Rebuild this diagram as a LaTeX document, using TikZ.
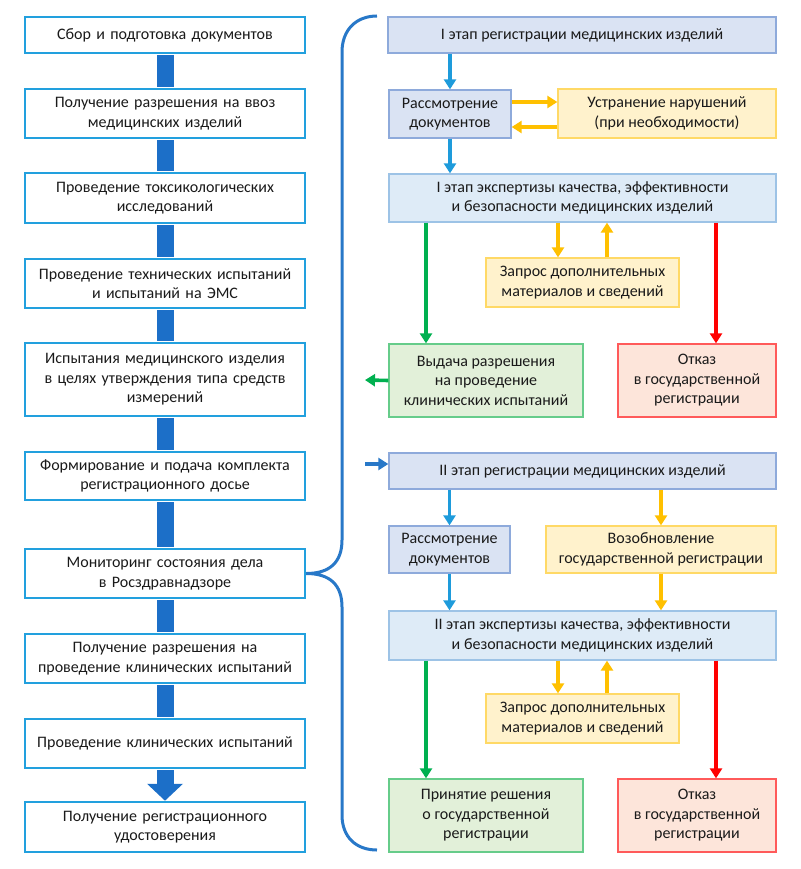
\documentclass[tikz,border=0pt]{standalone}
\usepackage{fontspec}
\setmainfont{Carlito}
\usetikzlibrary{arrows.meta, calc}

\definecolor{lborder}{HTML}{22A0DE}
\definecolor{barblue}{HTML}{1C6FC8}
\definecolor{arrblue}{HTML}{1E9BDB}
\definecolor{bracecol}{HTML}{2878C8}
\definecolor{stagefill}{HTML}{DAE3F3}
\definecolor{stageline}{HTML}{8EAADB}
\definecolor{expfill}{HTML}{DEEBF7}
\definecolor{expline}{HTML}{9DC3E6}
\definecolor{warnfill}{HTML}{FFF2CC}
\definecolor{warnline}{HTML}{FFD966}
\definecolor{okfill}{HTML}{E2F0D9}
\definecolor{okline}{HTML}{66CC8A}
\definecolor{failfill}{HTML}{FDE5DA}
\definecolor{failline}{HTML}{FF5A5A}
\definecolor{yarrow}{HTML}{FFC000}
\definecolor{garrow}{HTML}{00B050}
\definecolor{rarrow}{HTML}{FF0000}
\definecolor{txt}{HTML}{1A1A1A}

\tikzset{
  box/.style={draw, align=center, inner sep=0pt, text=txt,
    font=\fontsize{16}{19.5}\selectfont},
  lbox/.style={box, draw=lborder, line width=2.5pt, fill=white,
    minimum width=280, text width=276},
  stagebox/.style={box, draw=stageline, line width=1.3pt, fill=stagefill},
  expbox/.style={box, draw=expline, line width=1.3pt, fill=expfill},
  warnbox/.style={box, draw=warnline, line width=1.3pt, fill=warnfill},
  okbox/.style={box, draw=okline, line width=1.3pt, fill=okfill},
  failbox/.style={box, draw=failline, line width=1.3pt, fill=failfill},
  bar/.style={draw=barblue, line width=17pt},
  conn/.style={line width=3.6pt, -{Triangle[width=12pt,length=10pt]}},
  barr/.style={conn, draw=arrblue},
  yarr/.style={conn, draw=yarrow},
  garr/.style={conn, draw=garrow},
  rarr/.style={conn, draw=rarrow}
}

\begin{document}
\begin{tikzpicture}[x=1pt,y=-1pt]
  \useasboundingbox (0,0) rectangle (800,869);

  % left column
  \node[lbox, minimum height=36] (l1) at (165,35) {Сбор и подготовка документов};
  \node[lbox, minimum height=49] (l2) at (165,113.5) {Получение разрешения на ввоз\\медицинских изделий};
  \node[lbox, minimum height=50] (l3) at (165,198) {Проведение токсикологических\\исследований};
  \node[lbox, minimum height=49] (l4) at (165,283.5) {Проведение технических испытаний\\и испытаний на ЭМС};
  \node[lbox, minimum height=73] (l5) at (165,379.5) {Испытания медицинского изделия\\в целях утверждения типа средств\\измерений};
  \node[lbox, minimum height=48] (l6) at (165,476) {Формирование и подача комплекта\\регистрационного досье};
  \node[lbox, minimum height=49] (l7) at (165,573.5) {Мониторинг состояния дела\\в Росздравнадзоре};
  \node[lbox, minimum height=49] (l8) at (165,658.5) {Получение разрешения на\\проведение клинических испытаний};
  \node[lbox, minimum height=49] (l9) at (165,743.5) {Проведение клинических испытаний};
  \node[lbox, minimum height=50] (l10) at (165,827) {Получение регистрационного\\удостоверения};

  \foreach \a/\b in {l1/l2, l2/l3, l3/l4, l4/l5, l5/l6, l6/l7, l7/l8, l8/l9}
    \draw[bar, shorten <=1.2pt, shorten >=1.2pt] (\a.south) -- (\b.north);
  \draw[bar, shorten <=1.2pt, -{Triangle[width=35pt,length=17pt]}] (l9.south) -- (l10.north);

  % brace
  \draw[bracecol, line width=3pt]
    (377,16) .. controls (356,16) and (342,30) .. (342,52) -- (342,540)
    .. controls (342,562) and (330,573.5) .. (l7.east)
    .. controls (330,573.5) and (342,585) .. (342,607) -- (342,815)
    .. controls (342,837) and (356,850) .. (377,850);

  % stage I
  \node[stagebox, minimum width=388, minimum height=36] (st1) at (582,35) {I этап регистрации медицинских изделий};
  \node[stagebox, minimum width=122, minimum height=48] (rev1) at (450,114) {Рассмотрение\\документов};
  \node[warnbox, minimum width=218, minimum height=49] (fix) at (667,113.5) {Устранение нарушений\\(при необходимости)};
  \node[expbox, minimum width=387, minimum height=48] (exp1) at (582.5,198) {I этап экспертизы качества, эффективности\\и безопасности медицинских изделий};
  \node[warnbox, minimum width=193, minimum height=49] (req1) at (582.5,282.5) {Запрос дополнительных\\материалов и сведений};
  \node[okbox, minimum width=194, minimum height=73] (perm) at (486,380.5) {Выдача разрешения\\на проведение\\клинических испытаний};
  \node[failbox, minimum width=158, minimum height=73] (rej1) at (697,380.5) {Отказ\\в государственной\\регистрации};

  % stage II
  \node[stagebox, minimum width=387, minimum height=36] (st2) at (582.5,471) {II этап регистрации медицинских изделий};
  \node[stagebox, minimum width=121, minimum height=47] (rev2) at (449.5,549.5) {Рассмотрение\\документов};
  \node[warnbox, minimum width=230, minimum height=47] (resume) at (661,549.5) {Возобновление\\государственной регистрации};
  \node[expbox, minimum width=387, minimum height=49] (exp2) at (582.5,635.5) {II этап экспертизы качества, эффективности\\и безопасности медицинских изделий};
  \node[warnbox, minimum width=193, minimum height=49] (req2) at (582.5,718.5) {Запрос дополнительных\\материалов и сведений};
  \node[okbox, minimum width=194, minimum height=73] (dec) at (486,815.5) {Принятие решения\\о государственной\\регистрации};
  \node[failbox, minimum width=158, minimum height=73] (rej2) at (697,815.5) {Отказ\\в государственной\\регистрации};

  \coordinate (gx) at (426,0);
  \coordinate (rx) at (716,0);
  \coordinate (dx) at (558,0);
  \coordinate (ux) at (607,0);
  \coordinate (out) at (365,380);
  \coordinate (in) at (365,464);

  \draw[barr] (rev1.north |- st1.south) -- (rev1.north);
  \draw[yarr] ($(rev1.east)+(0,-12)$) -- ($(rev1.east -| fix.west)+(0,-12)$);
  \draw[yarr] ($(fix.west)+(0,13.5)$) -- ($(fix.west -| rev1.east)+(0,13.5)$);
  \draw[barr] (rev1.south) -- (rev1.south |- exp1.north);
  \draw[garr] (gx |- exp1.south) -- (gx |- perm.north);
  \draw[rarr] (rx |- exp1.south) -- (rx |- rej1.north);
  \draw[yarr] (dx |- exp1.south) -- (dx |- req1.north);
  \draw[yarr] (ux |- req1.north) -- (ux |- exp1.south);
  \draw[garr] (perm.west) -- (out);

  \draw[conn, draw=bracecol] (in) -- (in -| st2.west);
  \draw[barr] (rev2.north |- st2.south) -- (rev2.north);
  \draw[yarr] (resume.north |- st2.south) -- (resume.north);
  \draw[barr] (rev2.south) -- (rev2.south |- exp2.north);
  \draw[yarr] (resume.south) -- (resume.south |- exp2.north);
  \draw[garr] (gx |- exp2.south) -- (gx |- dec.north);
  \draw[rarr] (rx |- exp2.south) -- (rx |- rej2.north);
  \draw[yarr] (dx |- exp2.south) -- (dx |- req2.north);
  \draw[yarr] (ux |- req2.north) -- (ux |- exp2.south);
\end{tikzpicture}
\end{document}
